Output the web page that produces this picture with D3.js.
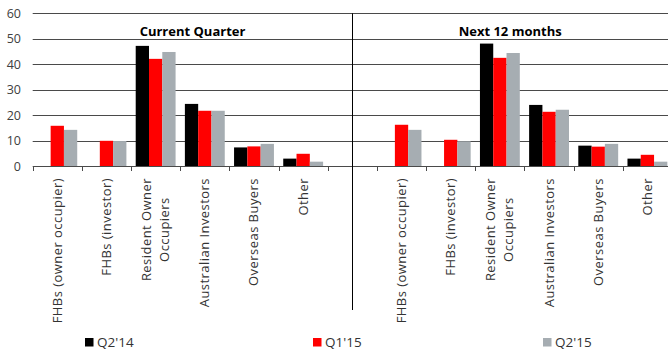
<!DOCTYPE html>
<html><head><meta charset="utf-8">
<script src="https://cdn.jsdelivr.net/npm/d3@7"></script>
<style>body{margin:0;background:#fff}svg{display:block}</style>
</head><body>
<svg id="c" width="668" height="351"></svg>
<script>
const categories = ["FHBs (owner occupier)", "FHBs (investor)", "Resident Owner Occupiers", "Australian Investors", "Overseas Buyers", "Other"];
const categoryLines = [["FHBs (owner occupier)"], ["FHBs (investor)"], ["Resident Owner", "Occupiers"], ["Australian Investors"], ["Overseas Buyers"], ["Other"]];
const panels = ["Current Quarter", "Next 12 months"];
const seriesNames = ["Q2'14", "Q1'15", "Q2'15"];
const seriesColors = ["#000000", "#ff0000", "#a6adb2"];
const currentQ2_14 = [null, null, 47.2, 24.4, 7.3, 2.9];
const currentQ1_15 = [15.8, 9.9, 42.1, 21.7, 7.7, 4.8];
const currentQ2_15 = [14.2, 9.8, 44.8, 21.7, 8.7, 1.7];
const nextQ2_14 = [null, null, 48.1, 24.0, 8.0, 2.9];
const nextQ1_15 = [16.2, 10.3, 42.5, 21.3, 7.6, 4.4];
const nextQ2_15 = [14.2, 9.7, 44.4, 22.1, 8.7, 1.7];
const yTicks = [0, 10, 20, 30, 40, 50, 60];

const panelData = [
  [currentQ2_14, currentQ1_15, currentQ2_15],
  [nextQ2_14, nextQ1_15, nextQ2_15]
];

const svg = d3.select("#c");
const W = 668;
const font = "'Open Sans', sans-serif";

// 13 slots: 6 categories, one empty separator slot, 6 categories
const slots = d3.range(13);
const x = d3.scaleBand().domain(slots).range([32.7, 672]).paddingInner(0).paddingOuter(0);
const y = d3.scaleLinear().domain([0, 60]).range([166, 13.3]);
const xs = d3.scaleBand().domain(d3.range(3)).range([0, x.bandwidth()]).paddingInner(0).paddingOuter(0.35);

function slotOf(p, i) { return p === 0 ? i : 7 + i; }

// gridlines
svg.append("g").selectAll("line").data(yTicks).join("line")
  .attr("x1", x(0)).attr("x2", W)
  .attr("y1", d => Math.round(y(d)) + 0.5).attr("y2", d => Math.round(y(d)) + 0.5)
  .attr("stroke", "#4a4a4a").attr("stroke-width", 1);

// y tick labels
svg.append("g").selectAll("text").data(yTicks).join("text")
  .attr("x", 21).attr("y", d => y(d) + 4.5)
  .attr("text-anchor", "end").attr("font-family", font).attr("font-size", 12.5)
  .attr("fill", "#404040").text(d => d);

// bars
const barData = [];
panelData.forEach((ser, p) => ser.forEach((vals, s) => vals.forEach((v, i) => {
  if (v !== null) barData.push({ p, s, i, v });
})));
svg.append("g").selectAll("rect").data(barData).join("rect")
  .attr("x", d => x(slotOf(d.p, d.i)) + xs(d.s))
  .attr("width", xs.bandwidth())
  .attr("y", d => y(d.v))
  .attr("height", d => y(0) - y(d.v))
  .attr("fill", d => seriesColors[d.s]);

// category ticks
const tickXs = d3.range(14).map(k => 32.7 + k * x.bandwidth());
svg.append("g").selectAll("line").data(tickXs).join("line")
  .attr("x1", d => Math.round(d) + 0.5).attr("x2", d => Math.round(d) + 0.5)
  .attr("y1", Math.round(y(0))).attr("y2", Math.round(y(0)) + 5)
  .attr("stroke", "#4a4a4a").attr("stroke-width", 1);

// divider
const divX = x(6) + x.bandwidth() / 2;
svg.append("line").attr("x1", Math.round(divX) + 0.5).attr("x2", Math.round(divX) + 0.5)
  .attr("y1", y(60)).attr("y2", 310).attr("stroke", "#000").attr("stroke-width", 1);

// panel titles
svg.append("g").selectAll("text").data(panels).join("text")
  .attr("x", (d, p) => p === 0 ? (x(0) + divX) / 2 : (divX + W) / 2)
  .attr("y", 35.5).attr("text-anchor", "middle").attr("font-family", font)
  .attr("font-weight", "bold").attr("font-size", 13).attr("fill", "#000").text(d => d);

// category labels (rotated)
[0, 1].forEach(p => {
  categoryLines.forEach((lines, i) => {
    const cx = x(slotOf(p, i)) + x.bandwidth() / 2;
    const g = svg.append("g").attr("transform", `translate(${cx},178) rotate(-90)`);
    const texts = lines.map((ln, j) => g.append("text")
      .attr("font-family", font).attr("font-size", 13).attr("letter-spacing", 0.45)
      .attr("fill", "#333333").attr("text-anchor", "middle").text(ln));
    const maxLen = d3.max(texts, t => t.node().getComputedTextLength());
    const n = lines.length, lh = 18;
    texts.forEach((t, j) => {
      t.attr("x", -maxLen / 2).attr("y", (j - (n - 1) / 2) * lh + 4.5);
    });
  });
});

// legend
const legendX = [85, 313, 543];
const lg = svg.append("g").selectAll("g").data(seriesNames).join("g")
  .attr("transform", (d, i) => `translate(${legendX[i]},338)`);
lg.append("rect").attr("width", 8.5).attr("height", 8.5).attr("fill", (d, i) => seriesColors[i]);
lg.append("text").attr("x", 12).attr("y", 9).attr("font-family", font).attr("font-size", 13.5)
  .attr("fill", "#333333").text(d => d);
</script>
</body></html>
